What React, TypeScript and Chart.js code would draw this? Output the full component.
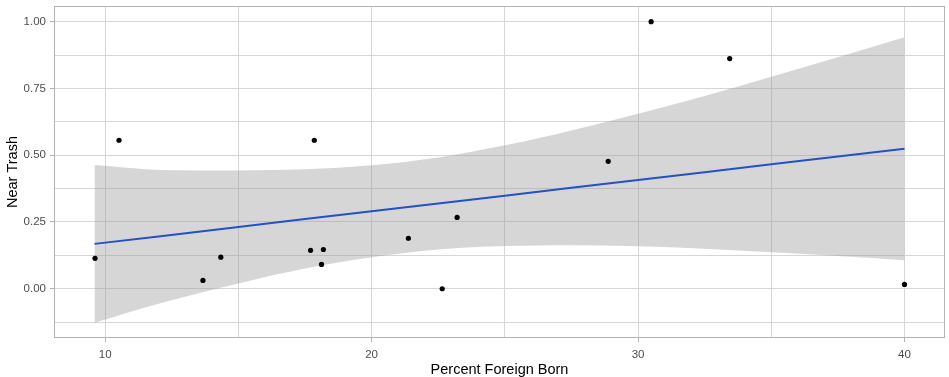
import React, { useEffect, useRef } from "react";
import { Chart, registerables } from "chart.js";

Chart.register(...registerables);

// Scatter points: percent foreign born vs. near trash
const pctForeignBorn = [9.62, 10.52, 13.67, 14.34, 17.71, 17.85, 18.12, 18.19, 21.38, 22.65, 23.21, 28.88, 30.49, 33.44, 40.0];
const nearTrash = [0.114, 0.556, 0.031, 0.118, 0.144, 0.556, 0.091, 0.147, 0.189, 0.0, 0.267, 0.477, 1.0, 0.862, 0.016];

// Fitted line and confidence band
const fitX = [9.6, 12, 15, 17.5, 20, 22.5, 25, 27.5, 30, 32.5, 35, 37.5, 40];
const fitY = [0.168, 0.196, 0.231, 0.261, 0.29, 0.319, 0.348, 0.378, 0.407, 0.436, 0.466, 0.495, 0.524];
const bandUpper = [0.463, 0.445, 0.443, 0.447, 0.462, 0.491, 0.537, 0.593, 0.655, 0.722, 0.794, 0.867, 0.942];
const bandLower = [-0.127, -0.056, 0.02, 0.076, 0.118, 0.147, 0.16, 0.163, 0.159, 0.15, 0.137, 0.123, 0.107];

// Axis ticks
const xMajorTicks = [10, 20, 30, 40];
const xMinorTicks = [15, 25, 35];
const yMajorTicks = [0, 0.25, 0.5, 0.75, 1.0];
const yMinorTicks = [-0.125, 0.125, 0.375, 0.625, 0.875];

const X_LABEL = "Percent Foreign Born";
const Y_LABEL = "Near Trash";

const FONT = "'Liberation Sans', Arial, sans-serif";

const panelBorder = {
  id: "panelBorder",
  afterDatasetsDraw(chart: any) {
    const { ctx, chartArea } = chart;
    ctx.save();
    ctx.strokeStyle = "#b3b3b3";
    ctx.lineWidth = 1;
    ctx.strokeRect(
      Math.round(chartArea.left) + 0.5,
      Math.round(chartArea.top) + 0.5,
      Math.round(chartArea.right - chartArea.left) - 1,
      Math.round(chartArea.bottom - chartArea.top) - 1
    );
    ctx.restore();
  },
};

export default function App() {
  const ref = useRef<HTMLCanvasElement | null>(null);

  useEffect(() => {
    if (!ref.current) return;
    const pts = pctForeignBorn.map((x, i) => ({ x, y: nearTrash[i] }));
    const fit = fitX.map((x, i) => ({ x, y: fitY[i] }));
    const up = fitX.map((x, i) => ({ x, y: bandUpper[i] }));
    const lo = fitX.map((x, i) => ({ x, y: bandLower[i] }));
    const isXMajor = (v: number) => xMajorTicks.includes(v);
    const isYMajor = (v: number) => yMajorTicks.some((t) => Math.abs(t - v) < 1e-9);

    const chart = new Chart(ref.current, {
      type: "scatter",
      data: {
        datasets: [
          {
            data: pts,
            backgroundColor: "#000000",
            borderColor: "#000000",
            pointRadius: 2.6,
            pointBorderWidth: 0,
            showLine: false,
          },
          {
            data: fit,
            showLine: true,
            borderColor: "#2352c4",
            borderWidth: 2,
            pointRadius: 0,
            fill: false,
          },
          {
            data: lo,
            showLine: true,
            borderWidth: 0,
            borderColor: "rgba(0,0,0,0)",
            pointRadius: 0,
            cubicInterpolationMode: "monotone",
            fill: false,
          },
          {
            data: up,
            showLine: true,
            borderWidth: 0,
            borderColor: "rgba(0,0,0,0)",
            backgroundColor: "rgba(153,153,153,0.4)",
            pointRadius: 0,
            cubicInterpolationMode: "monotone",
            fill: "-1",
          },
        ],
      } as any,
      options: {
        responsive: false,
        animation: false,
        devicePixelRatio: 1,
        layout: { padding: { top: 6, right: 2, left: 0, bottom: 0 } },
        plugins: {
          legend: { display: false },
          tooltip: { enabled: false },
        },
        scales: {
          x: {
            type: "linear",
            min: 8.08,
            max: 41.52,
            afterBuildTicks: (s: any) => {
              s.ticks = [...xMajorTicks, ...xMinorTicks].sort((a, b) => a - b).map((v) => ({ value: v }));
            },
            afterFit: (s: any) => {
              s.height = 39;
              s.paddingLeft = 0;
              s.paddingRight = 0;
            },
            border: { display: false },
            grid: {
              color: "#d6d6d6",
              lineWidth: 1,
              tickLength: 4,
              tickWidth: 1,
              tickColor: (c: any) => (c.tick && isXMajor(c.tick.value) ? "#b3b3b3" : "rgba(0,0,0,0)"),
            },
            ticks: {
              autoSkip: false,
              maxRotation: 0,
              padding: 6,
              color: "#4d4d4d",
              font: { family: FONT, size: 11.5 },
              callback: (v: any) => (isXMajor(Number(v)) ? String(v) : ""),
            },
            title: {
              display: true,
              text: X_LABEL,
              color: "#000000",
              font: { family: FONT, size: 14.5 },
              padding: { top: 0, bottom: -1.5 },
            },
          },
          y: {
            type: "linear",
            min: -0.1845,
            max: 1.0588,
            afterBuildTicks: (s: any) => {
              s.ticks = [...yMajorTicks, ...yMinorTicks].sort((a, b) => a - b).map((v) => ({ value: v }));
            },
            afterFit: (s: any) => {
              s.width = 54;
              s.paddingTop = 0;
              s.paddingBottom = 0;
            },
            border: { display: false },
            grid: {
              color: "#d6d6d6",
              lineWidth: 1,
              tickLength: 4,
              tickWidth: 1,
              tickColor: (c: any) => (c.tick && isYMajor(c.tick.value) ? "#b3b3b3" : "rgba(0,0,0,0)"),
            },
            ticks: {
              autoSkip: false,
              padding: 4,
              color: "#4d4d4d",
              font: { family: FONT, size: 11.5 },
              callback: (v: any) => (isYMajor(Number(v)) ? Number(v).toFixed(2) : ""),
            },
            title: {
              display: true,
              text: Y_LABEL,
              color: "#000000",
              font: { family: FONT, size: 14.5 },
              padding: { top: 4.5, bottom: 0 },
            },
          },
        },
      } as any,
      plugins: [panelBorder],
    });
    return () => chart.destroy();
  }, []);

  return (
    <div style={{ position: "fixed", left: 0, top: 0, width: 949, height: 377, background: "#ffffff" }}>
      <canvas ref={ref} width={949} height={377} style={{ display: "block", width: 949, height: 377 }} />
    </div>
  );
}
